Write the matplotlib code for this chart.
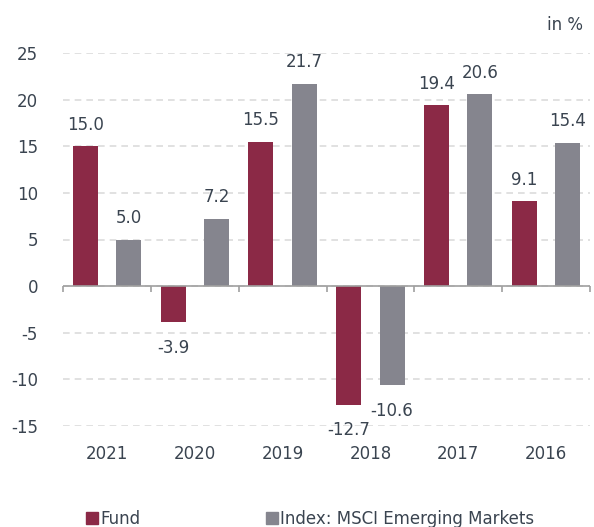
import matplotlib
matplotlib.use("Agg")
import matplotlib.pyplot as plt
import numpy as np
from matplotlib.lines import Line2D
from matplotlib import font_manager as fm

categories = ["2021", "2020", "2019", "2018", "2017", "2016"]
fund = [15.0, -3.9, 15.5, -12.7, 19.4, 9.1]
index = [5.0, 7.2, 21.7, -10.6, 20.6, 15.4]
yticks = [-15, -10, -5, 0, 5, 10, 15, 20, 25]
series_names = ["Fund", "Index: MSCI Emerging Markets"]

fund_color = "#8b2946"
index_color = "#85858e"
text_color = "#3a4450"

path = fm.findfont(fm.FontProperties(family="DejaVu Sans"))
fp = fm.FontProperties(fname=path, size=12)

fig = plt.figure(figsize=(5.94, 5.27), dpi=100)
ax = fig.add_axes([63/594, 1-426/527, (590-63)/594, (426-53)/527])

x = np.arange(len(categories))
w = 0.285
off = 0.247
b1 = ax.bar(x - off, fund, w, color=fund_color, zorder=3)
b2 = ax.bar(x + off, index, w, color=index_color, zorder=3)

for bars, vals in ((b1, fund), (b2, index)):
    for rect, v in zip(bars, vals):
        cx = rect.get_x() + rect.get_width() / 2
        if v >= 0:
            ax.annotate(f"{v:.1f}", (cx, v), xytext=(0, 9), textcoords="offset points",
                        ha="center", va="bottom", fontproperties=fp, color=text_color)
        else:
            ax.annotate(f"{v:.1f}", (cx, v), xytext=(0, -12), textcoords="offset points",
                        ha="center", va="top", fontproperties=fp, color=text_color)

ax.set_xlim(-0.5, len(categories) - 0.5)
ax.set_ylim(-15, 25)
ax.set_yticks(yticks)
ax.set_yticklabels([str(t) for t in yticks], fontproperties=fp)
ax.set_xticks(x)
ax.set_xticklabels(categories, fontproperties=fp)
ax.tick_params(axis="both", length=0, colors=text_color)
ax.tick_params(axis="y", pad=18)
ax.tick_params(axis="x", pad=14)
for s in ax.spines.values():
    s.set_visible(False)
ax.yaxis.grid(True, color="#dcdcdc", linestyle=(0, (4, 3)), linewidth=1.2, zorder=0)
ax.set_axisbelow(True)

ax.axhline(0, color="#a0a0a0", linewidth=1.2, zorder=4)
bounds = np.arange(len(categories) + 1) - 0.5
ax.vlines(bounds, -0.6, 0, color="#a0a0a0", linewidth=1.2, zorder=4, clip_on=False)

fig.text(583/594, 1-25/527, "in %", ha="right", va="center", fontproperties=fp,
         color=text_color)

handles = [Line2D([], [], marker="s", linestyle="none", markersize=8, color=fund_color),
           Line2D([], [], marker="s", linestyle="none", markersize=8, color=index_color)]
fig.legend(handles, series_names, loc="center", bbox_to_anchor=(310/594, 1-519/527),
           ncol=2, frameon=False, prop=fp, handletextpad=0.1,
           columnspacing=7.5, labelcolor=text_color, handlelength=0.8)

fig.savefig("out.png", dpi=100)
